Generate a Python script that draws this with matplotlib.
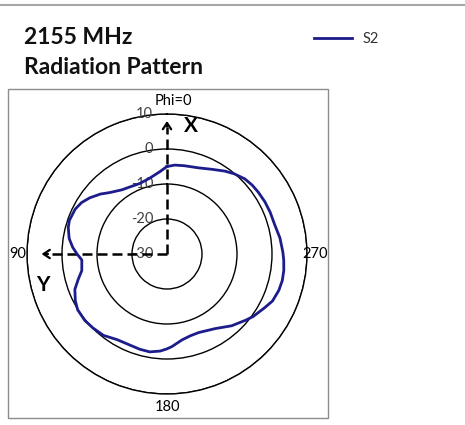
import numpy as np
import matplotlib
matplotlib.use("Agg")
import matplotlib.pyplot as plt
from matplotlib.lines import Line2D
from matplotlib.patches import Rectangle
from matplotlib.transforms import offset_copy

plt.rcParams['font.family'] = ['Lato', 'DejaVu Sans']

# ---- data ----
title_lines = ["2155 MHz", "Radiation Pattern"]
series_name = "S2"
phi_deg = [0, 5, 13, 21, 29, 35, 43, 48, 54, 59, 64, 71, 75, 81, 86, 90, 94, 101,
           106, 111, 117, 122, 129, 135, 142, 150, 158, 164, 170, 176, 180, 183,
           190, 196, 202, 213, 222, 230, 234, 241, 246, 252, 257, 262, 267, 271,
           278, 285, 292, 298, 304, 309, 314, 320, 325, 332, 340, 349, 355]
gain_db = [-5.0, -6.4, -7.8, -8.4, -8.1, -7.6, -6.0, -4.4, -2.7, -1.5, -0.8, -0.5,
           -0.8, -1.7, -3.0, -4.3, -5.6, -5.2, -3.6, -1.8, -0.6, 0.1, 0.2, -0.1,
           -0.5, -1.7, -1.9, -1.7, -1.6, -2.2, -2.9, -3.5, -5.1, -5.7, -5.8, -4.6,
           -2.4, -0.6, 0.4, 1.8, 3.0, 3.6, 3.8, 3.7, 3.4, 3.1, 2.6, 1.9, 1.8, 1.7,
           1.5, 1.3, 0.9, -0.1, -1.1, -2.6, -3.8, -4.3, -4.5]
r_ticks = [-30, -20, -10, 0, 10]
angle_labels = ["Phi=0", "90", "180", "270"]

W, H = 465, 425
fig = plt.figure(figsize=(W / 100, H / 100), dpi=100)

def fx(x):
    return x / W

def fy(y):
    return 1 - y / H

# top gray rule
fig.add_artist(Line2D([0, 1], [fy(4.5), fy(4.5)], color='#a6a6a6', lw=1.5))
# chart frame
fig.add_artist(Rectangle((fx(8), fy(418)), fx(328) - fx(8), fy(89) - fy(418),
                         transform=fig.transFigure, fill=False,
                         edgecolor='#8c8c8c', lw=1.0))

# titles
fig.text(fx(24), fy(37), title_lines[0], fontsize=16.5, fontweight='bold',
         va='center', ha='left', color='#111111')
fig.text(fx(24), fy(67), title_lines[1], fontsize=16.5, fontweight='bold',
         va='center', ha='left', color='#111111')

# polar axes
ax = fig.add_axes([fx(27), fy(394), fx(307) - fx(27), fy(114) - fy(394)],
                  projection='polar')
ax.set_theta_zero_location('N')
ax.set_theta_direction(1)
ax.set_ylim(r_ticks[0], r_ticks[-1])
ax.set_yticks(r_ticks)
ax.set_yticklabels([])
ax.set_xticks([])
ax.yaxis.grid(True, color='black', lw=1.0)
ax.xaxis.grid(False)
ax.spines['polar'].set_color('black')
ax.spines['polar'].set_linewidth(1.0)
ax.set_facecolor('none')

th = np.radians(phi_deg + phi_deg[:1])
rr = np.array(gain_db + gain_db[:1])
line, = ax.plot(th, rr, color='#1c1c8c', lw=2.0, label=series_name, zorder=5,
                solid_joinstyle='round')

# radial labels
tr = offset_copy(ax.transData, fig=fig, x=-14, y=0, units='dots')
for r in r_ticks:
    ax.text(0, r, str(r), transform=tr, ha='right', va='center',
            fontsize=10.5, color='#404040', zorder=3)

# angle labels
fig.text(fx(173), fy(101), angle_labels[0], fontsize=10.5, ha='center', va='center', color='black')
fig.text(fx(17.5), fy(254), angle_labels[1], fontsize=10.5, ha='center', va='center', color='black')
fig.text(fx(167.5), fy(407), angle_labels[2], fontsize=10.5, ha='center', va='center', color='black')
fig.text(fx(315.5), fy(254), angle_labels[3], fontsize=10.5, ha='center', va='center', color='black')

# dashed X / Y axes arrows (axes fraction)
ax.plot([0.5, 0.5], [0.5, 0.952], transform=ax.transAxes, color='black',
        lw=1.8, dashes=(4, 2), clip_on=False, zorder=4)
ax.plot([0.5, 0.08], [0.5, 0.5], transform=ax.transAxes, color='black',
        lw=1.8, dashes=(4, 2), clip_on=False, zorder=4)
ax.annotate('', xy=(0.5, 0.975), xytext=(0.5, 0.955), xycoords='axes fraction',
            arrowprops=dict(arrowstyle='->,head_length=0.45,head_width=0.3',
                            lw=1.6, color='black', shrinkA=0, shrinkB=0))
ax.annotate('', xy=(0.052, 0.5), xytext=(0.075, 0.5), xycoords='axes fraction',
            arrowprops=dict(arrowstyle='->,head_length=0.45,head_width=0.3',
                            lw=1.6, color='black', shrinkA=0, shrinkB=0))
fig.text(fx(190.5), fy(126.5), 'X', fontsize=15, fontweight='bold', ha='center', va='center')
fig.text(fx(42.5), fy(285), 'Y', fontsize=15, fontweight='bold', ha='center', va='center')

# legend
fig.legend(handles=[line], loc='center left', bbox_to_anchor=(fx(314), fy(39)),
           frameon=False, fontsize=10.5, handlelength=2.6, handletextpad=0.7,
           borderpad=0, borderaxespad=0, labelcolor='#333333')

fig.savefig('out.png', dpi=100)
